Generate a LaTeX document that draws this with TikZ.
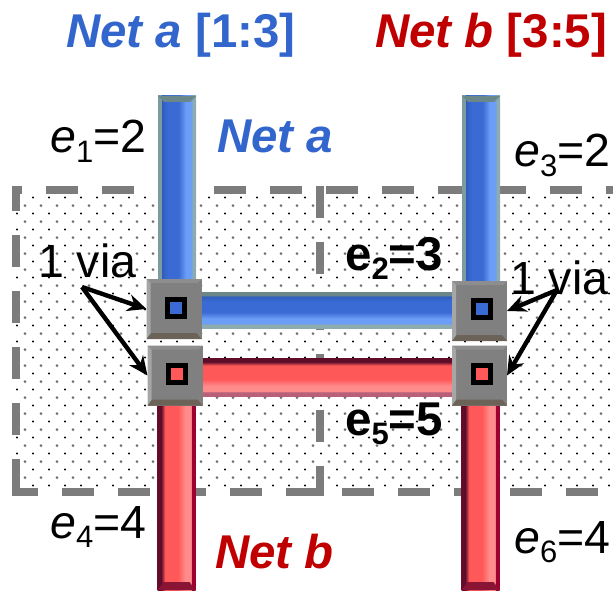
\documentclass[tikz,border=0pt]{standalone}
\usepackage{fontspec}
\setmainfont{Liberation Sans}
\usetikzlibrary{positioning,arrows.meta,calc}
\definecolor{netBlue}{HTML}{3366CC}
\definecolor{netRed}{HTML}{C00000}
\definecolor{bandG}{HTML}{7C7C7C}
\definecolor{dotG}{HTML}{6E6E6E}
\definecolor{viaG}{HTML}{808080}
\definecolor{viaLight}{HTML}{A6A6A6}
\definecolor{viaTop}{HTML}{8E8E8E}
\definecolor{viaLow}{HTML}{6B6358}
\definecolor{blueEdgeA}{HTML}{6B8789}
\definecolor{blueEdgeB}{HTML}{8CACB0}
\definecolor{blueDeep}{HTML}{2F5DBE}
\definecolor{blueBody}{HTML}{3A6BD4}
\definecolor{blueLite}{HTML}{6C9EF8}
\definecolor{redEdgeA}{HTML}{5E0C2A}
\definecolor{redEdgeB}{HTML}{A00030}
\definecolor{redEdgeC}{HTML}{B8607A}
\definecolor{redBody}{HTML}{FF5858}
\definecolor{redLite}{HTML}{FF8C8C}
\definecolor{redDeep}{HTML}{8A1434}

\pgfdeclarehorizontalshading{wireBlueV}{100bp}{color(0bp)=(blueEdgeA); color(29bp)=(blueEdgeB!60!blueEdgeA);
  color(30bp)=(blueDeep); color(38bp)=(blueBody); color(52bp)=(blueBody); color(62bp)=(blueLite);
  color(69.5bp)=(blueLite); color(70bp)=(blueEdgeB); color(100bp)=(blueEdgeB)}
\pgfdeclareverticalshading{wireBlueH}{100bp}{color(0bp)=(blueEdgeB); color(30bp)=(blueEdgeB);
  color(31bp)=(blueLite); color(38bp)=(blueLite); color(47bp)=(blueBody); color(62bp)=(blueBody);
  color(69bp)=(blueDeep); color(70bp)=(blueEdgeA); color(100bp)=(blueEdgeA)}
\pgfdeclarehorizontalshading{wireRedV}{100bp}{color(0bp)=(redEdgeB); color(28bp)=(redEdgeA);
  color(30bp)=(redEdgeA); color(35bp)=(redBody); color(52bp)=(redBody); color(62bp)=(redLite);
  color(69bp)=(redLite); color(70bp)=(redEdgeB); color(100bp)=(redEdgeB)}
\pgfdeclareverticalshading{wireRedH}{100bp}{color(0bp)=(redEdgeC); color(30bp)=(redEdgeC);
  color(31bp)=(redLite); color(38bp)=(redLite); color(47bp)=(redBody); color(65bp)=(redBody);
  color(70bp)=(redEdgeA); color(100bp)=(redEdgeA)}

\newcommand{\edgelabel}[2]{\textit{e}\raisebox{-0.2em}{\fontsize{31}{31}\selectfont #1}#2}

\begin{document}
\begin{tikzpicture}[
    x=1pt,y=-1pt,
    font=\fontsize{46.5}{46.5}\selectfont,
    wire/.style={inner sep=0pt,outer sep=0pt},
    wireV/.style={wire,minimum width=38pt,minimum height=#1},
    wireH/.style={wire,minimum width=255pt,minimum height=#1},
    viabox/.style={fill=viaG,inner sep=0pt,outer sep=0pt,minimum width=55pt,minimum height=60pt},
    viahole/.style={fill=black,inner sep=0pt,minimum size=22pt},
    viacore/.style={inner sep=0pt,minimum size=12pt},
    band/.style={draw=bandG,line width=8pt,dash pattern=on 32pt off 24pt},
    viaarrow/.style={-{Stealth[length=19pt,width=17pt]},line width=4.4pt},
    lab/.style={anchor=base west,inner sep=0pt},
    heading/.style={lab,font=\fontsize{47.4}{47.4}\selectfont\bfseries},
]
\useasboundingbox (0,0) rectangle (613,591);

% dotted field
\foreach \j in {0,...,17}
   \foreach \k in {0,...,36}
      \fill[dotG] (25+16*\k,205.7+16*\j) circle (1.5pt);
\foreach \j in {-1,...,17}
   \foreach \k in {-1,...,36}
      \fill[black] (33+16*\k,213.5+16*\j) circle (1.1pt);

% dashed outlines of the two panels
\draw[band,dash phase=22pt] (12,190) -- (613,190);
\draw[band,dash phase=6pt]  (12,492) -- (613,492);
\draw[band,dash phase=7pt]  (16,186) -- (16,496);
\draw[band]                 (320,186) -- (320,496);

% wires
\node[wireV=184pt,shading=wireBlueV] (blueL) at (177,188) {};
\node[wireV=184pt,shading=wireBlueV] (blueR) at (481,188) {};
\node[wireH=36pt,shading=wireBlueH]  (blueM) at (327.5,310) {};
\node[wireH=38pt,shading=wireRedH]   (redM)  at (327.5,377) {};
\node[wireV=190pt,shading=wireRedV]  (redL)  at (176.5,495) {};
\node[wireV=190pt,shading=wireRedV]  (redR)  at (480.5,495) {};

% bevelled wire ends
\foreach \n in {blueL,blueR}
   \fill[blueEdgeA] (\n.north west) -- (\n.north east) -- ++(-6,6) -- ($(\n.north west)+(6,6)$) -- cycle;
\foreach \n in {redL,redR}
   \fill[redDeep] (\n.south west) -- (\n.south east) -- ++(-6,-8) -- ($(\n.south west)+(6,-8)$) -- cycle;

% vias
\foreach \n/\x/\y/\hx/\hy/\c in {viaA/174/309/176/308/blueBody,viaB/175/375.5/177/374/redBody,
                                 viaC/479.5/311/482/309/blueBody,viaD/479.5/375.5/482/374/redBody} {
   \node[viabox] (\n) at (\x,\y) {};
   \fill[viaTop] (\n.north west) -- (\n.north east) -- ++(-4,4) -- ($(\n.north west)+(4,4)$) -- cycle;
   \fill[viaLight] (\n.north west) -- (\n.south west) -- ++(4,-6) -- ($(\n.north west)+(4,4)$) -- cycle;
   \fill[viaLow] (\n.south west) -- (\n.south east) -- ++(-5,-6) -- ($(\n.south west)+(5,-6)$) -- cycle;
   \node[viahole] (\n hole) at (\hx,\hy) {};
   \node[viacore,fill=\c] (\n core) at (\n hole) {};
}

% via callouts
\coordinate (viaTextL) at (82,287);
\coordinate (viaTextR) at (557,290);
\draw[viaarrow] (viaTextL) -- (viaA.west);
\draw[viaarrow] (viaTextL) -- (viaB.west);
\draw[viaarrow] (viaTextR) -- (viaC.east);
\draw[viaarrow] (viaTextR) -- (viaD.east);
\node[lab] (viaL) at (38,277) {1 via};
\node[lab] (viaR) at (510,294) {1 via};

% titles
\node[heading,netBlue] (titleA) at (66,48) {\textit{Net a} [1:3]};
\node[heading,netRed]  (titleB) at (375,48) {\textit{Net b} [3:5]};
\node[heading,netBlue,font=\fontsize{47.4}{47.4}\selectfont\bfseries\itshape] (nameA) at (217,153) {Net a};
\node[heading,netRed,font=\fontsize{47.4}{47.4}\selectfont\bfseries\itshape]  (nameB) at (215,568) {Net b};

% edge costs
\node[lab] (e1) at (50,153)  {\edgelabel{1}{=2}};
\node[lab] (e3) at (514,167) {\edgelabel{3}{=2}};
\node[lab] (e4) at (50,538)  {\edgelabel{4}{=4}};
\node[lab] (e6) at (514,553) {\edgelabel{6}{=4}};
\node[heading] (e2) at (345,270) {e\raisebox{-0.2em}{\fontsize{31}{31}\selectfont 2}=3};
\node[heading] (e5) at (345,435) {e\raisebox{-0.2em}{\fontsize{31}{31}\selectfont 5}=5};

\end{tikzpicture}
\end{document}
